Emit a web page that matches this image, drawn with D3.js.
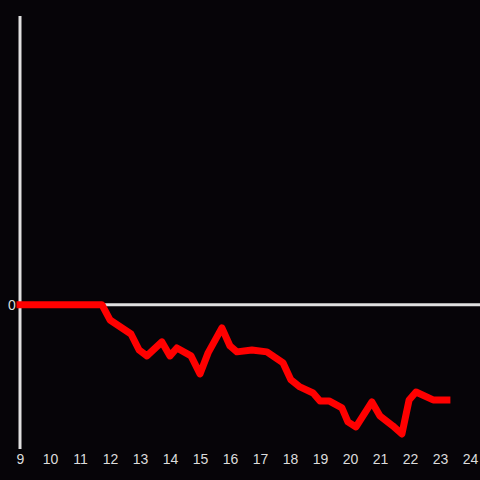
<!DOCTYPE html>
<html>
<head>
<meta charset="utf-8">
<script src="https://cdn.jsdelivr.net/npm/d3@7"></script>
<style>
  html, body { margin: 0; padding: 0; background: #060408; }
  svg { display: block; }
</style>
</head>
<body>
<svg id="chart"></svg>
<script>
// hour of day and value
const hours = [9.0, 11.73, 12.0, 12.7, 12.97, 13.23, 13.73, 14.0, 14.23, 14.7,
  15.0, 15.27, 15.73, 16.0, 16.23, 16.73, 17.23, 17.77, 18.03, 18.33,
  18.77, 19.0, 19.3, 19.73, 19.93, 20.2, 20.73, 21.0, 21.43, 21.73,
  21.97, 22.2, 22.77, 23.23];
const values = [0, 0, -0.106, -0.203, -0.314, -0.355, -0.258, -0.355, -0.300, -0.355,
  -0.480, -0.334, -0.161, -0.286, -0.327, -0.314, -0.327, -0.404, -0.521, -0.570,
  -0.612, -0.667, -0.667, -0.715, -0.812, -0.847, -0.674, -0.771, -0.84, -0.896,
  -0.66, -0.605, -0.66, -0.66];
const xTicks = d3.range(9, 25);
const yTicks = [0];

const width = 480, height = 480;
const marginLeft = 20, marginRight = 10, marginTop = 16, marginBottom = 31;

const svg = d3.select("#chart")
  .attr("width", width)
  .attr("height", height);

svg.append("rect")
  .attr("width", width)
  .attr("height", height)
  .attr("fill", "#060408");

const x = d3.scaleLinear()
  .domain([9, 24])
  .range([marginLeft, width - marginRight]);

const y = d3.scaleLinear()
  .domain([-1, 2])
  .range([height - marginBottom, marginTop]);

// x tick labels only
svg.append("g")
  .attr("transform", `translate(0,${height - marginBottom})`)
  .call(d3.axisBottom(x).tickValues(xTicks).tickFormat(d3.format("d")).tickSize(0).tickPadding(5))
  .call(g => g.select(".domain").remove())
  .call(g => g.selectAll("text")
    .attr("fill", "#dcdcdc")
    .style("font-family", "'Liberation Sans', Arial, sans-serif")
    .style("font-size", "14px"));

// vertical axis line
svg.append("line")
  .attr("x1", x(9)).attr("x2", x(9))
  .attr("y1", marginTop).attr("y2", height - marginBottom)
  .attr("stroke", "#e0e0e0")
  .attr("stroke-width", 3);

// zero line
svg.append("line")
  .attr("x1", x(9)).attr("x2", width)
  .attr("y1", y(0)).attr("y2", y(0))
  .attr("stroke", "#e0e0e0")
  .attr("stroke-width", 3);

svg.append("g")
  .selectAll("text")
  .data(yTicks)
  .join("text")
    .attr("x", 12)
    .attr("y", d => y(d))
    .attr("dy", "0.35em")
    .attr("text-anchor", "middle")
    .attr("fill", "#dcdcdc")
    .style("font-family", "'Liberation Sans', Arial, sans-serif")
    .style("font-size", "14px")
    .text(d => d);

const line = d3.line()
  .x((d, i) => x(hours[i]))
  .y(d => y(d));

svg.append("path")
  .datum(values)
  .attr("fill", "none")
  .attr("stroke", "#ff0000")
  .attr("stroke-width", 7)
  .attr("stroke-linejoin", "round")
  .attr("stroke-linecap", "square")
  .attr("d", line);
</script>
</body>
</html>
